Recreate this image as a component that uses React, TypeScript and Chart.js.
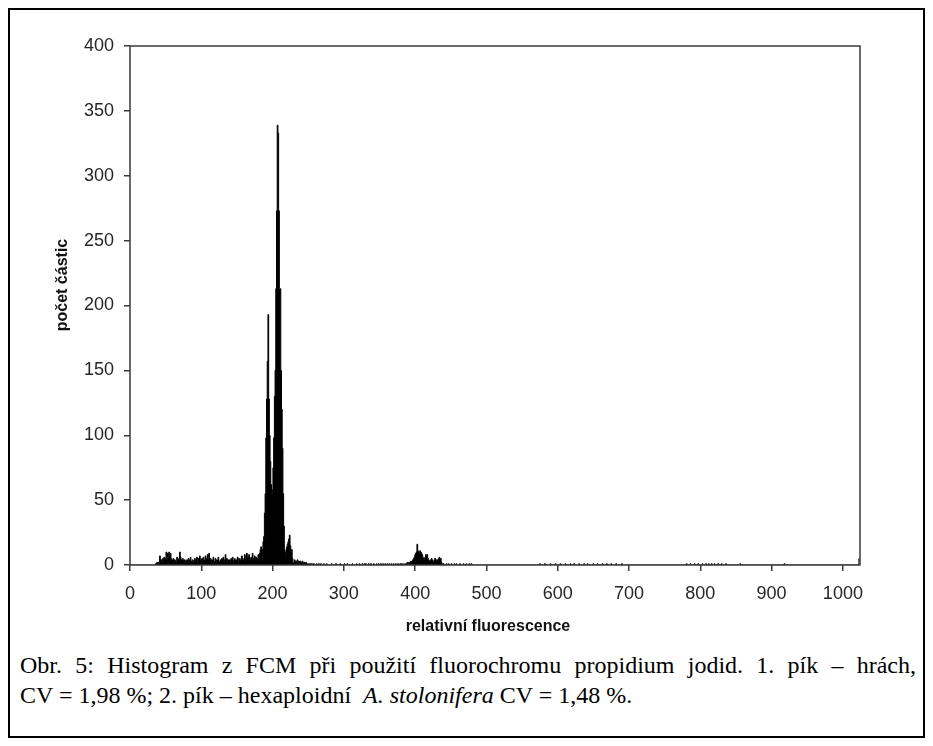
import React, { useEffect, useRef } from "react";
import { Chart, registerables } from "chart.js";

Chart.register(...registerables);

// ---- data (channel counts) ----
const CHANNEL_COUNT = 1024;

const noiseStart = 36;
const noiseValues = [
  1, 1, 2, 1, 2, 1,
  7, 3, 4, 2, 5, 3, 6, 4,
  5, 10, 4, 9, 6, 10, 3, 9, 5, 4,
  3, 5, 2, 4, 3, 2, 6, 3, 4, 5,
  10, 6, 4, 3, 5, 4, 3, 4, 2, 3,
  4, 3, 5, 2, 4, 6, 3, 2, 4, 3,
  2, 5, 3, 4, 6, 2, 5, 3, 7, 4,
  3, 5, 2, 6, 3, 4, 7, 3, 5, 8,
  4, 9, 3, 5, 2, 4, 3, 6, 2, 3,
  5, 2, 4, 3, 6, 3, 2, 4, 3, 5,
  3, 6, 2, 4, 8, 3, 5, 2, 4, 3,
  4, 2, 5, 3, 6, 2, 4, 5, 3, 4,
  3, 6, 2, 5, 4, 3, 5, 7, 4, 3,
  5, 8, 3, 7, 9, 6, 4, 8, 5, 3,
  6, 4, 9, 5, 3, 7, 4, 6, 5, 3,
  8, 6, 9, 12, 14,
];

const peakStart = 185;
const peakValues = [
  6, 12, 18, 22, 40, 55, 98, 128, 157, 193,
  128, 100, 80, 62, 55, 58, 75, 98, 130, 150,
  213, 273, 339, 333, 273, 213, 213, 150, 120, 90,
  55, 30, 12, 10, 8, 14, 16, 18, 20, 23,
  15, 10, 12, 5, 2,
];

const tailStart = 230;
const tailValues = [
  2, 4, 3, 2, 3, 4, 2, 3, 1, 3,
  2, 2, 3, 1, 2, 2, 1, 2, 1, 1,
  1, 0, 1, 1, 0, 1, 0, 1, 1, 0,
];

const peak2Start = 389;
const peak2Values = [
  2, 1, 2, 2, 1, 3,
  2, 3, 4, 5, 6, 8, 9, 10, 16, 11,
  10, 9, 11, 10, 9, 8, 6, 5, 4, 6,
  8, 7, 8, 5, 4, 3, 3, 4, 5, 4,
  3, 2, 4, 5, 3, 4, 4, 3, 5, 6,
  4, 5, 2, 1, 1, 1,
];

const sparseChannels = [
  262, 265, 268, 272, 276, 283, 289, 295, 301, 305, 312, 318, 322, 326, 329,
  331, 335, 338, 342, 346, 349, 352, 355, 358, 361, 364, 367, 370, 373, 376,
  379, 381, 383, 386, 388,
  444, 447, 451, 455, 458, 463, 468, 472, 476, 479,
  575, 582, 590, 597, 604, 611, 618, 623, 630, 637, 642, 650, 656, 663, 669,
  675, 682, 690,
  781, 786, 792, 797, 803, 808, 812, 816, 820, 825, 830, 836,
  856, 918, 1023,
];
const sparseValues = [
  1, 1, 1, 1, 1, 1, 1, 1, 1, 1, 1, 1, 1, 1, 1,
  1, 1, 1, 1, 1, 1, 1, 1, 1, 1, 1, 1, 1, 1, 1,
  1, 1, 1, 1, 1,
  1, 1, 1, 1, 1, 1, 1, 1, 1, 1,
  1, 1, 1, 1, 1, 1, 1, 1, 1, 1, 1, 1, 1, 1, 1,
  1, 1, 1,
  1, 1, 1, 1, 1, 1, 1, 1, 1, 1, 1, 1,
  1, 1, 5,
];

const xTicks = [0, 100, 200, 300, 400, 500, 600, 700, 800, 900, 1000];
const yTicks = [0, 50, 100, 150, 200, 250, 300, 350, 400];

const xTitle = "relativní fluorescence";
const yTitle = "počet částic";

const captionLine1 =
  "Obr. 5: Histogram z FCM při použití fluorochromu propidium jodid. 1. pík – hrách,";
const captionLine2a = "CV = 1,98 %; 2. pík – hexaploidní  ";
const captionItalic = "A. stolonifera";
const captionLine2b = " CV = 1,48 %.";

// ---- build the histogram table ----
function buildCounts(): number[] {
  const counts: number[] = new Array(CHANNEL_COUNT).fill(0);
  const put = (start: number, vals: number[]) => {
    vals.forEach((v, i) => {
      counts[start + i] = v;
    });
  };
  put(noiseStart, noiseValues);
  put(peakStart, peakValues);
  put(tailStart, tailValues);
  put(peak2Start, peak2Values);
  sparseChannels.forEach((c, i) => {
    counts[c] = sparseValues[i];
  });
  return counts;
}

const AXIS_COLOR = "#3a3a3a";
const LABEL_COLOR = "#262626";
const SANS = '"Liberation Sans", Arial, sans-serif';

const framePlugin = {
  id: "frameAndTitles",
  afterDraw(chart: any) {
    const { ctx, chartArea } = chart;
    const { left, top, right, bottom } = chartArea;
    ctx.save();
    ctx.strokeStyle = AXIS_COLOR;
    ctx.lineWidth = 1.5;
    ctx.strokeRect(left, top, right - left, bottom - top);

    ctx.fillStyle = "#111";
    ctx.font = `bold 16px ${SANS}`;
    ctx.textAlign = "center";
    ctx.textBaseline = "middle";
    ctx.fillText(xTitle, 478, 617);

    ctx.translate(53, 275);
    ctx.rotate(-Math.PI / 2);
    ctx.fillText(yTitle, 0, 0);
    ctx.restore();
  },
};

export default function App() {
  const canvasRef = useRef<HTMLCanvasElement | null>(null);

  useEffect(() => {
    const canvas = canvasRef.current;
    if (!canvas) return;
    const counts = buildCounts();
    const points = counts.map((v, i) => ({ x: i, y: v }));

    const chart = new Chart(canvas, {
      type: "line",
      data: {
        datasets: [
          {
            data: points,
            stepped: "middle",
            fill: "origin",
            backgroundColor: "#000",
            borderColor: "#000",
            borderWidth: 1,
            pointRadius: 0,
          } as any,
        ],
      },
      options: {
        responsive: false,
        animation: false,
        devicePixelRatio: 1,
        layout: { padding: { left: 0, top: 36, right: 63, bottom: 0 } },
        plugins: {
          legend: { display: false },
          tooltip: { enabled: false },
        },
        scales: {
          x: {
            type: "linear",
            min: 0,
            max: 1024,
            afterFit(s: any) {
              s.height = 75;
            },
            afterBuildTicks(s: any) {
              s.ticks = xTicks.map((v) => ({ value: v }));
            },
            ticks: {
              autoSkip: false,
              maxRotation: 0,
              padding: 12,
              color: LABEL_COLOR,
              font: { family: SANS, size: 18 },
              callback: (v: any) => String(v),
            },
            grid: {
              display: true,
              drawOnChartArea: false,
              drawTicks: true,
              tickLength: 6,
              color: AXIS_COLOR,
              lineWidth: 1.5,
            },
            border: { display: false },
          },
          y: {
            type: "linear",
            min: 0,
            max: 400,
            afterFit(s: any) {
              s.width = 120;
            },
            afterBuildTicks(s: any) {
              s.ticks = yTicks.map((v) => ({ value: v }));
            },
            ticks: {
              autoSkip: false,
              padding: 10,
              color: LABEL_COLOR,
              font: { family: SANS, size: 18 },
              callback: (v: any) => String(v),
            },
            grid: {
              display: true,
              drawOnChartArea: false,
              drawTicks: true,
              tickLength: 6,
              color: AXIS_COLOR,
              lineWidth: 1.5,
            },
            border: { display: false },
          },
        },
      },
      plugins: [framePlugin],
    });
    return () => chart.destroy();
  }, []);

  const serif = '"Liberation Serif", "Times New Roman", serif';

  return (
    <div
      style={{
        position: "relative",
        width: 917,
        height: 730,
        boxSizing: "border-box",
        border: "2px solid #000",
        background: "#fff",
      }}
    >
      <canvas
        ref={canvasRef}
        width={913}
        height={630}
        style={{ position: "absolute", left: 0, top: 0, width: 913, height: 630 }}
      />
      <div
        style={{
          position: "absolute",
          left: 10,
          top: 640,
          width: 896,
          fontFamily: serif,
          fontSize: 24,
          lineHeight: "30px",
          color: "#000",
        }}
      >
        <div style={{ textAlign: "justify", textAlignLast: "justify" } as any}>
          {captionLine1}
        </div>
        <div style={{ whiteSpace: "pre" }}>
          {captionLine2a}
          <i>{captionItalic}</i>
          {captionLine2b}
        </div>
      </div>
    </div>
  );
}
